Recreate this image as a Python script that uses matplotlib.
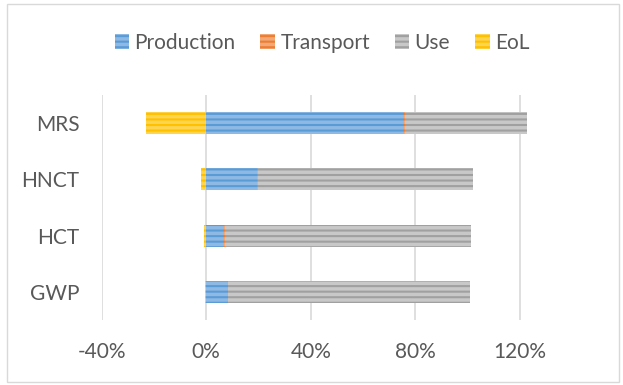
import matplotlib.pyplot as plt
import numpy as np
from matplotlib.patches import Rectangle

plt.rcParams['font.family'] = ['Lato', 'DejaVu Sans']
plt.rcParams['hatch.linewidth'] = 1.5

categories = ['GWP', 'HCT', 'HNCT', 'MRS']
production = [8.2, 6.8, 19.5, 75.5]
transport = [0.3, 0.2, 0.2, 0.6]
use = [92.3, 94.2, 82.5, 46.8]
eol = [-0.6, -1.0, -1.9, -22.9]

ticks = [-40, 0, 40, 80, 120]
tick_labels = ['-40%', '0%', '40%', '80%', '120%']

# (fill, stripe) colour pairs
colors = {
    'Production': ('#8DB9E4', '#5B9BD5'),
    'Transport': ('#F3A877', '#ED7D31'),
    'Use': ('#C8C8C8', '#A0A0A0'),
    'EoL': ('#FFD54F', '#FFC000'),
}

fig = plt.figure(figsize=(6.23, 3.85), dpi=100)
fig.patches.append(Rectangle((7 / 623, 3 / 385), 612 / 623, 378 / 385,
                             transform=fig.transFigure, fill=False,
                             edgecolor='#D9D9D9', linewidth=1))
ax = fig.add_axes([101.7 / 623, 65 / 385, 428.6 / 623, 225 / 385])

y = np.arange(len(categories))
h = 0.39
left = np.zeros(len(categories))
handles = []
for name, vals in [('Production', production), ('Transport', transport), ('Use', use)]:
    fc, sc = colors[name]
    b = ax.barh(y, vals, h, left=left, color=fc, edgecolor=sc, linewidth=0,
                hatch='---', label=name, zorder=3)
    handles.append(b)
    left = left + np.array(vals)
fc, sc = colors['EoL']
b = ax.barh(y, eol, h, left=0, color=fc, edgecolor=sc, linewidth=0,
            hatch='---', label='EoL', zorder=3)
handles.append(b)

ax.set_xlim(-40, 124)
ax.set_ylim(-0.5, 3.5)
ax.set_xticks(ticks)
ax.set_xticklabels(tick_labels)
ax.set_yticks(y)
ax.set_yticklabels(categories)
ax.grid(axis='x', color='#D9D9D9', linewidth=1.2, zorder=0)
for s in ax.spines.values():
    s.set_visible(False)
ax.tick_params(axis='both', length=0, labelsize=15, labelcolor='#595959')
ax.tick_params(axis='x', pad=16)
ax.tick_params(axis='y', pad=16)

fig.legend(handles=handles, loc='center', bbox_to_anchor=(322 / 623, 1 - 43 / 385),
           ncol=4, frameon=False, fontsize=15, labelcolor='#595959',
           handlelength=0.7, handleheight=0.7, handletextpad=0.25, columnspacing=1.2)

fig.savefig('out.png', dpi=100)
